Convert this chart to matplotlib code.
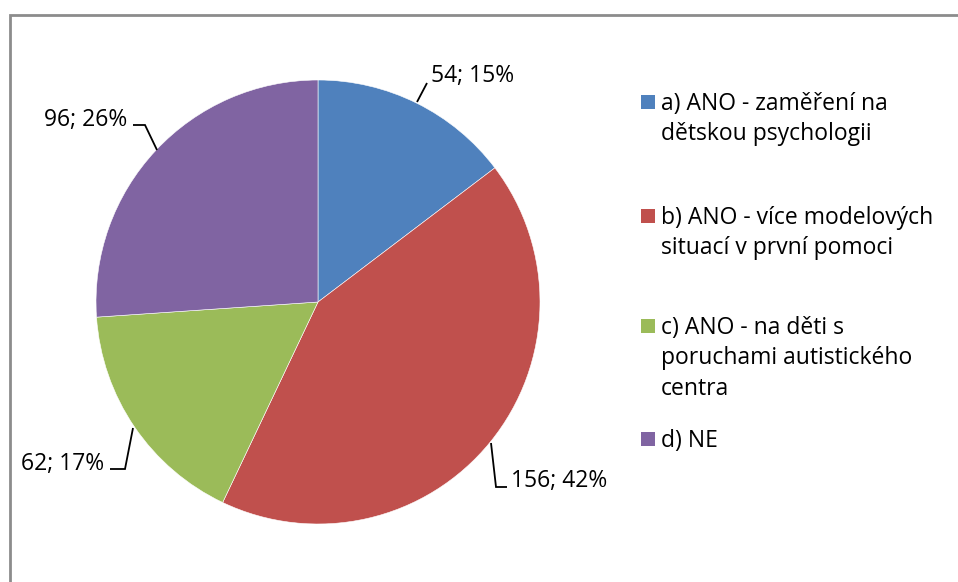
import matplotlib
matplotlib.use("Agg")
import matplotlib.pyplot as plt
from matplotlib.patches import Rectangle

categories = ["a) ANO - zaměření na\ndětskou psychologii",
              "b) ANO - více modelových\nsituací v první pomoci",
              "c) ANO - na děti s\nporuchami autistického\ncentra",
              "d) NE"]
values = [54, 156, 62, 96]
colors = ["#4F81BD", "#C0504D", "#9BBB59", "#8064A2"]

W, H = 958, 582
plt.rcParams['font.family'] = ['Open Sans', 'DejaVu Sans']
fig = plt.figure(figsize=(W / 100, H / 100), dpi=100)
ax = fig.add_axes([0, 0, 1, 1])

cx, cy, r = 318, H - 302, 222
ax.pie(values, colors=colors, startangle=90, counterclock=False,
       center=(cx, cy), radius=r, frame=True,
       wedgeprops=dict(edgecolor="white", linewidth=0.4))
ax.set_xlim(0, W)
ax.set_ylim(0, H)
ax.set_aspect('equal')
ax.axis('off')

# chart border
ax.add_patch(Rectangle((10, -20), W, H - 15 + 20, fill=False, edgecolor="#8c8c8c", lw=2))

total = sum(values)
labels = [f"{v}; {round(100 * v / total)}%" for v in values]

fs = 16.5
lab_specs = [
    # text x, baseline y (from top), ha, leader points
    (431, 82, 'left', [(417, 102), (427, 83)]),
    (511, 487, 'left', [(491, 443), (496, 487), (507, 487)]),
    (104, 470, 'right', [(133, 428), (125, 469), (110, 469)]),
    (127, 126, 'right', [(157, 150), (145, 125), (133, 125)]),
]
for lab, (tx, ty, ha, pts) in zip(labels, lab_specs):
    ax.text(tx, H - ty, lab, ha=ha, va='baseline', fontsize=fs, color="black")
    ax.plot([p[0] for p in pts], [H - p[1] for p in pts], color="black", lw=1.3,
            solid_capstyle='butt', solid_joinstyle='miter')

# legend
leg_base = [110, 224, 334, 447]
line_gap = 30.5
for cat, col, yb in zip(categories, colors, leg_base):
    ax.add_patch(Rectangle((641, H - yb + 1), 14, 14, facecolor=col, edgecolor='none'))
    for i, line in enumerate(cat.split("\n")):
        ax.text(661, H - (yb + i * line_gap), line, ha='left', va='baseline',
                fontsize=fs, color="black")

fig.savefig("out.png", dpi=100)
